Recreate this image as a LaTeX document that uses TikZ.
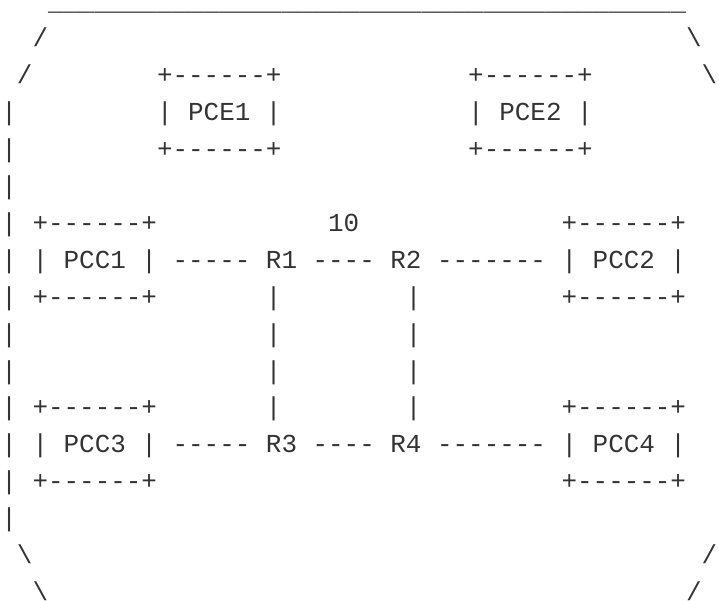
\documentclass[tikz,border=0pt]{standalone}
\usepackage{fontspec}
\setmonofont{Liberation Mono}
\definecolor{ink}{HTML}{333333}
\tikzset{ascii/.style={font=\ttfamily\fontsize{25.93}{36.9}\selectfont, text=ink, inner sep=0pt, anchor=base west}}
\begin{document}
\begin{tikzpicture}[x=15.56pt, y=-36.9pt]
\useasboundingbox (-1.22pt,10pt) rectangle (717.78pt,-590pt);

% outer border
\foreach \c in {3,...,43} \node[ascii] (top-\c) at (\c,0) {\_};
\node[ascii] (nw1) at (2,1) {/};
\node[ascii] (ne1) at (44,1) {\textbackslash};
\node[ascii] (nw2) at (1,2) {/};
\node[ascii] (ne2) at (45,2) {\textbackslash};
\foreach \r in {3,...,14} \node[ascii] (wall-\r) at (0,\r) {|};
\node[ascii] (sw1) at (1,15) {\textbackslash};
\node[ascii] (se1) at (45,15) {/};
\node[ascii] (sw2) at (2,16) {\textbackslash};
\node[ascii] (se2) at (44,16) {/};

% PCEs
\node[ascii] (pce1-top) at (10,2) {+------+};
\node[ascii] (pce1) at (10,3) {| PCE1 |};
\node[ascii] (pce1-bot) at (10,4) {+------+};
\node[ascii] (pce2-top) at (30,2) {+------+};
\node[ascii] (pce2) at (30,3) {| PCE2 |};
\node[ascii] (pce2-bot) at (30,4) {+------+};

% upper row
\node[ascii] (pcc1-top) at (2,6) {+------+};
\node[ascii] (pcc1) at (2,7) {| PCC1 |};
\node[ascii] (pcc1-bot) at (2,8) {+------+};
\node[ascii] (metric) at (21,6) {10};
\node[ascii] (l-pcc1-r1) at (11,7) {-----};
\node[ascii] (r1) at (17,7) {R1};
\node[ascii] (l-r1-r2) at (20,7) {----};
\node[ascii] (r2) at (25,7) {R2};
\node[ascii] (l-r2-pcc2) at (28,7) {-------};
\node[ascii] (pcc2-top) at (36,6) {+------+};
\node[ascii] (pcc2) at (36,7) {| PCC2 |};
\node[ascii] (pcc2-bot) at (36,8) {+------+};

% verticals
\foreach \r in {8,...,11} {
  \node[ascii] (l-r1-r3-\r) at (17,\r) {|};
  \node[ascii] (l-r2-r4-\r) at (26,\r) {|};
}

% lower row
\node[ascii] (pcc3-top) at (2,11) {+------+};
\node[ascii] (pcc3) at (2,12) {| PCC3 |};
\node[ascii] (pcc3-bot) at (2,13) {+------+};
\node[ascii] (l-pcc3-r3) at (11,12) {-----};
\node[ascii] (r3) at (17,12) {R3};
\node[ascii] (l-r3-r4) at (20,12) {----};
\node[ascii] (r4) at (25,12) {R4};
\node[ascii] (l-r4-pcc4) at (28,12) {-------};
\node[ascii] (pcc4-top) at (36,11) {+------+};
\node[ascii] (pcc4) at (36,12) {| PCC4 |};
\node[ascii] (pcc4-bot) at (36,13) {+------+};
\end{tikzpicture}
\end{document}
